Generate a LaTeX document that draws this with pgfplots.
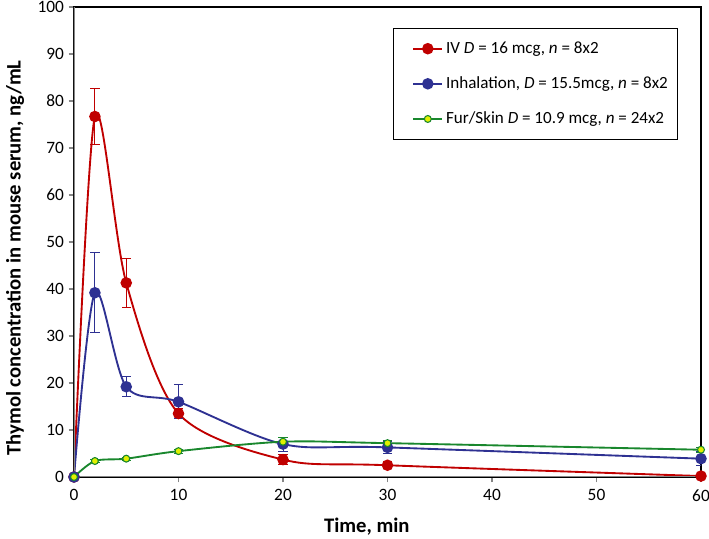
\documentclass[border=0pt]{standalone}
\usepackage{pgfplots}
\usepackage{pgfplotstable}
\pgfplotsset{compat=1.18}
\usepackage{fontspec}
\setmainfont{Carlito}
\definecolor{ivred}{RGB}{192,0,0}
\definecolor{inblue}{RGB}{46,49,146}
\definecolor{furgreen}{RGB}{25,135,45}
\definecolor{furyellow}{RGB}{225,240,0}
\definecolor{axgray}{RGB}{134,134,134}

\pgfplotstableread{
t y e
0 0 0
2 76.7 6.0
5 41.3 5.3
10 13.5 1.1
20 3.7 1.0
30 2.5 0.7
60 0.2 0.3
}\ivdata
\pgfplotstableread{
t y e
0 0 0
2 39.2 8.5
5 19.2 2.1
10 16.0 3.6
20 7.0 1.5
30 6.3 1.2
60 3.9 1.5
}\inhdata
\pgfplotstableread{
t y e
0 0 0
2 3.4 0.3
5 3.9 0.3
10 5.5 0.4
20 7.5 1.0
30 7.2 0.6
60 5.8 0.5
}\furdata

\begin{document}
\begin{tikzpicture}
\begin{axis}[
  scale only axis, width=470.25pt, height=352.5pt,
  xmin=0, xmax=60, ymin=0, ymax=100,
  xtick={0,10,...,60}, ytick={0,10,...,100},
  xtick pos=left, ytick pos=left,
  tick align=outside, major tick length=4pt,
  tick style={axgray, line width=0.8pt},
  axis line style={black, line width=1pt},
  /pgf/number format/assume math mode=true,
  tick label style={font=\fontsize{13}{15}\selectfont},
  xticklabel style={yshift=-2pt},
  xlabel={Time, min},
  ylabel={Thymol concentration in mouse serum, ng/mL},
  label style={font=\bfseries\fontsize{15.5}{18}\selectfont},
  xlabel style={at={(axis description cs:0.467,-0.106)}, anchor=center},
  ylabel style={at={(axis description cs:-0.094,0.466)}, anchor=center},
  legend style={at={(rel axis cs:0.509,0.955)}, anchor=north west, draw=black, line width=0.6pt,
    font=\fontsize{12.8}{14}\selectfont, row sep=12pt, inner xsep=5pt, inner ysep=8pt},
  legend cell align=left,
  legend image code/.code={\path (0pt,0pt); \draw[mark repeat=2,mark phase=2,#1,line width=1.4pt] plot coordinates {(9pt,0pt)(20pt,0pt)(31pt,0pt)};},
  error bars/error bar style={line width=0.7pt},
  error bars/error mark options={rotate=90, mark size=3.5pt, line width=0.7pt},
]
\addplot[ivred, line width=1.4pt, smooth, mark=*, mark size=3.6pt,
  error bars/.cd, y dir=both, y explicit]
  table[x=t, y=y, y error=e] {\ivdata};
\addlegendentry{IV \textit{D} = 16 mcg, \textit{n} = 8x2}
\addplot[inblue, line width=1.4pt, smooth, mark=*, mark size=3.6pt,
  error bars/.cd, y dir=both, y explicit]
  table[x=t, y=y, y error=e] {\inhdata};
\addlegendentry{Inhalation, \textit{D} = 15.5mcg, \textit{n} = 8x2}
\addplot[furgreen, line width=1.4pt, smooth, mark=*, mark size=2.6pt,
  mark options={fill=furyellow, draw=furgreen, line width=0.8pt},
  error bars/.cd, y dir=both, y explicit]
  table[x=t, y=y, y error=e] {\furdata};
\addlegendentry{Fur/Skin \textit{D} = 10.9 mcg, \textit{n} = 24x2}
\draw[axgray, line width=1.4pt] (rel axis cs:0,1) -- (rel axis cs:0,0) -- (rel axis cs:1,0);
\end{axis}
\pgfresetboundingbox
\useasboundingbox (-55.5pt,-45.75pt) rectangle (476.25pt,357.75pt);
\end{tikzpicture}
\end{document}
